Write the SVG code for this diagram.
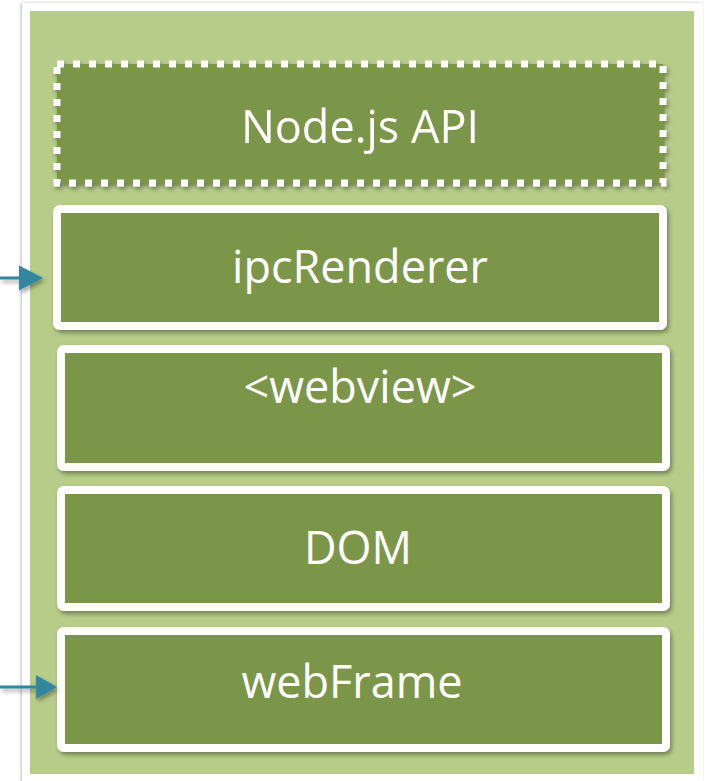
<svg xmlns="http://www.w3.org/2000/svg" width="706" height="781" viewBox="0 0 706 781">
  <defs>
    <filter id="shadow" x="-10%" y="-10%" width="120%" height="130%">
      <feDropShadow dx="2" dy="3" stdDeviation="2" flood-color="#000" flood-opacity="0.35"/>
    </filter>
    <filter id="frameShadow" x="-5%" y="-5%" width="110%" height="110%">
      <feDropShadow dx="-1" dy="0" stdDeviation="1.5" flood-color="#000" flood-opacity="0.25"/>
    </filter>
  </defs>
  <style>
    .panel { fill: #7b9648; }
    .solid { stroke: #ffffff; stroke-width: 8; }
    .dotted { stroke: #ffffff; stroke-width: 7; stroke-dasharray: 7 9; fill: #7b9648; }
    .label { font-family: "Open Sans", "Noto Sans", sans-serif; font-size: 45px; fill: #ffffff; text-anchor: middle; }
    .link { stroke: #31869f; stroke-width: 3; fill: none; }
    .head { fill: #31869f; }
  </style>

  <!-- outer container -->
  <g id="container">
    <rect x="22" y="3" width="681" height="790" fill="#ffffff" filter="url(#frameShadow)"/>
    <rect x="30" y="11" width="664" height="763" fill="#b6cc88"/>
  </g>

  <g id="node-api" filter="url(#shadow)">
    <path class="dotted" d="M57,64 H663 V183 H57 Z"/>
    <text class="label" x="360" y="143">Node.js API</text>
  </g>

  <g id="ipc-renderer">
    <rect class="panel solid" x="57" y="209" width="606" height="117" rx="3" filter="url(#shadow)"/>
    <text class="label" x="360" y="283">ipcRenderer</text>
  </g>

  <g id="webview">
    <rect class="panel solid" x="61" y="349" width="605" height="118" rx="3" filter="url(#shadow)"/>
    <text class="label" x="360" y="403">&lt;webview&gt;</text>
  </g>

  <g id="dom">
    <rect class="panel solid" x="61" y="490" width="605" height="117" rx="3" filter="url(#shadow)"/>
    <text class="label" x="358" y="564">DOM</text>
  </g>

  <g id="web-frame">
    <rect class="panel solid" x="61" y="631" width="605" height="117" rx="3" filter="url(#shadow)"/>
    <text class="label" x="352" y="698">webFrame</text>
  </g>

  <!-- incoming connectors -->
  <g id="connectors" filter="url(#shadow)">
    <line class="link" x1="0" y1="278" x2="20" y2="278"/>
    <path class="head" d="M19,265.5 L43,278 L19,290.5 Z"/>
    <line class="link" x1="0" y1="687" x2="37" y2="687"/>
    <path class="head" d="M36,675 L57,687 L36,699 Z"/>
  </g>
</svg>
